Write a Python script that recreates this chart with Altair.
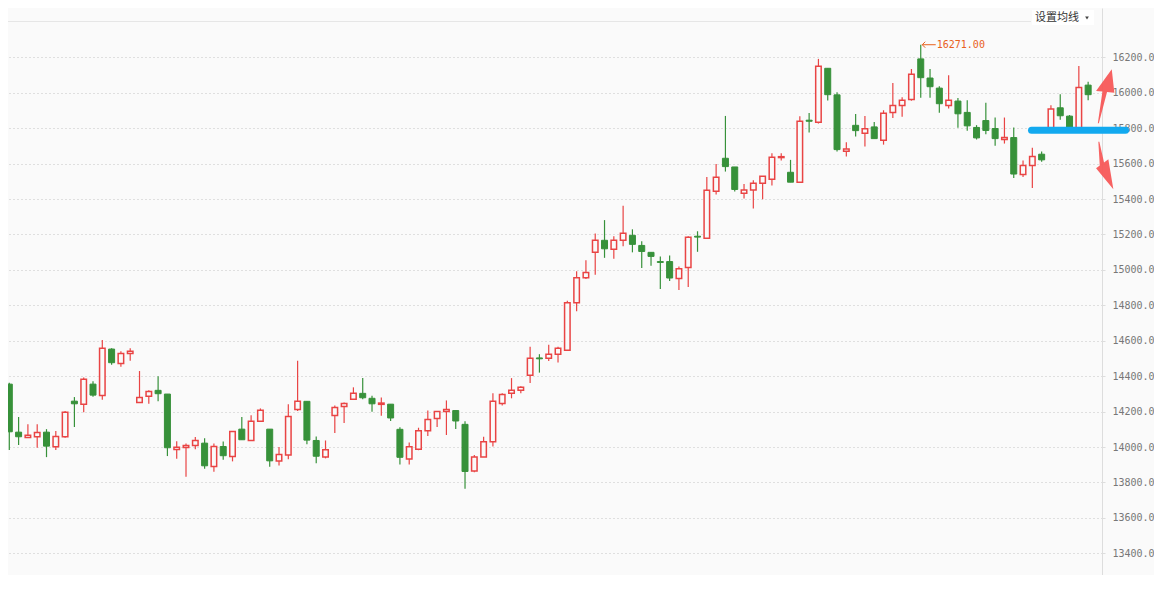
import altair as alt
import pandas as pd

# ---- candle data (index, open, close, high, low) ----
opens = [14570, 14355, 14084, 14054, 14058, 14084, 14002, 14058, 14259, 14241,
         14355, 14291, 14553, 14472, 14528, 14252, 14286, 14320, 14299, 13986,
         13998, 14009, 14022, 13890, 14003, 13947, 14101, 14037, 14146, 14101,
         13921, 13955, 14212, 14258, 14037, 13944, 14178, 14229, 14269, 14303,
         14275, 14241, 14242, 14100, 13933, 13988, 14092, 14161, 14200, 14206,
         14128, 13864, 13944, 14030, 14246, 14303, 14320, 14405, 14503, 14501,
         14524, 14547, 14814, 14956, 15099, 15167, 15116, 15167, 15195, 15138,
         15099, 15047, 15047, 14951, 15013, 15190, 15178, 15444, 15630, 15581,
         15433, 15451, 15489, 15512, 15634, 15551, 15495, 15845, 15833, 16138,
         15988, 15670, 15816, 15771, 15807, 15732, 15889, 15928, 15962, 16191,
         16083, 16026, 15928, 15953, 15889, 15804, 15843, 15798, 15736, 15747,
         15538, 15589, 15653, 15800, 15915, 15868, 15790, 16043]
closes = [14497, 14086, 14058, 14066, 14082, 14005, 14060, 14197, 14244, 14382,
          14293, 14557, 14476, 14528, 14540, 14280, 14314, 14301, 13996, 13999,
          14009, 14037, 13894, 14003, 13951, 14088, 14041, 14146, 14207, 13922,
          13958, 14172, 14258, 14039, 13948, 13984, 14223, 14246, 14303, 14278,
          14244, 14248, 14164, 13942, 14001, 14092, 14155, 14200, 14212, 14147,
          13862, 13944, 14030, 14258, 14297, 14320, 14337, 14501, 14498, 14524,
          14558, 14814, 14956, 14985, 15167, 15119, 15167, 15207, 15144, 15104,
          15076, 15042, 14954, 15007, 15184, 15185, 15449, 15523, 15583, 15454,
          15451, 15489, 15529, 15636, 15639, 15495, 15839, 15839, 16149, 15989,
          15679, 15683, 15786, 15796, 15741, 15884, 15928, 15957, 16104, 16085,
          16034, 15938, 15957, 15881, 15813, 15745, 15787, 15741, 15747, 15541,
          15589, 15640, 15621, 15908, 15870, 15790, 16030, 15989]
highs = [14590, 14363, 14169, 14129, 14129, 14101, 14090, 14203, 14282, 14393,
         14372, 14604, 14557, 14540, 14557, 14429, 14320, 14400, 14299, 14032,
         14020, 14056, 14050, 14020, 14031, 14088, 14169, 14180, 14218, 14101,
         14000, 14242, 14487, 14258, 14060, 14037, 14235, 14252, 14337, 14390,
         14290, 14280, 14242, 14111, 14026, 14109, 14206, 14200, 14263, 14206,
         14145, 13955, 14058, 14303, 14303, 14389, 14343, 14566, 14524, 14577,
         14566, 14826, 14992, 15055, 15205, 15281, 15190, 15362, 15229, 15161,
         15099, 15076, 15081, 15019, 15190, 15218, 15525, 15597, 15869, 15581,
         15485, 15506, 15529, 15659, 15659, 15621, 15867, 15886, 16191, 16138,
         16003, 15721, 15880, 15869, 15835, 15901, 16055, 15975, 16134, 16271,
         16134, 16036, 16098, 15970, 15957, 15817, 15943, 15860, 15860, 15804,
         15617, 15690, 15668, 15930, 15992, 15874, 16151, 16062]
lows = [14480, 13983, 14011, 14054, 13996, 13943, 13983, 14052, 14113, 14197,
        14284, 14267, 14464, 14453, 14487, 14252, 14244, 14259, 13949, 13934,
        13832, 13988, 13877, 13860, 13928, 13919, 14041, 14037, 14146, 13889,
        13896, 13931, 14204, 14016, 13908, 13936, 14079, 14136, 14269, 14269,
        14199, 14176, 14147, 13902, 13902, 13982, 14062, 14113, 14068, 14102,
        13765, 13857, 13944, 14003, 14235, 14275, 14303, 14361, 14420, 14486,
        14477, 14547, 14767, 14949, 14973, 15068, 15063, 15133, 15099, 15011,
        15023, 14892, 14937, 14886, 14903, 15102, 15178, 15425, 15555, 15442,
        15403, 15346, 15399, 15476, 15617, 15495, 15495, 15775, 15826, 15956,
        15668, 15640, 15753, 15696, 15741, 15707, 15858, 15864, 15955, 15972,
        15972, 15887, 15911, 15802, 15785, 15736, 15766, 15700, 15713, 15519,
        15524, 15462, 15611, 15790, 15847, 15780, 15785, 15958]

tick_values = [13400, 13600, 13800, 14000, 14200, 14400, 14600, 14800,
               15000, 15200, 15400, 15600, 15800, 16000, 16200]

max_idx = [99]
max_val = [16271]
max_label = ["16271.00"]

menu_label = ["设置均线"]

RED = "#e94444"
GREEN = "#37913a"
BG = "#fafafa"
ORANGE = "#e8601c"

n = len(opens)
df = pd.DataFrame({
    "i": list(range(n)),
    "open": opens,
    "close": closes,
    "high": highs,
    "low": lows,
})
df["dir"] = ["up" if c >= o else "down" for o, c in zip(opens, closes)]

xs = alt.Scale(domain=[0.86, 118.49], nice=False, zero=False, padding=0)
ys = alt.Scale(domain=[13277.6, 16478.3], nice=False, zero=False, padding=0)

yaxis = alt.Axis(orient="right", values=tick_values, format=".1f", grid=True,
                 gridDash=[1, 3], gridColor="#c4c4c4", gridWidth=1,
                 domainColor="#dddddd", tickColor="#dddddd", tickSize=3,
                 labelFont="DejaVu Sans Mono", labelFontSize=10,
                 labelColor="#777777", labelPadding=7, title=None)

X = alt.X("i:Q", scale=xs, axis=None)

base = alt.Chart(df)

wicks = base.mark_rule(strokeWidth=1.2).encode(
    x=X,
    y=alt.Y("low:Q", scale=ys, axis=yaxis),
    y2="high:Q",
    color=alt.Color("dir:N", scale=alt.Scale(domain=["up", "down"], range=[RED, GREEN]), legend=None),
)

down_bodies = base.transform_filter(alt.datum.dir == "down").mark_bar(
    size=6, fill=GREEN, stroke=GREEN, strokeWidth=1).encode(
    x=X,
    y=alt.Y("open:Q", scale=ys, axis=yaxis),
    y2="close:Q",
)

up_bodies = base.transform_filter(alt.datum.dir == "up").mark_bar(
    size=5.5, fill=BG, stroke=RED, strokeWidth=1.5).encode(
    x=X,
    y=alt.Y("open:Q", scale=ys, axis=yaxis),
    y2="close:Q",
)

ann_df = pd.DataFrame({"i": max_idx, "p": max_val, "t": max_label})
ann = alt.Chart(ann_df)
ann_shaft = ann.mark_rule(color=ORANGE, strokeWidth=1, xOffset=1.5, x2Offset=15).encode(
    x=X, x2="i:Q", y=alt.Y("p:Q", scale=ys, axis=yaxis))
ann_head = ann.mark_point(shape="M1,-1L0,0L1,1", size=36, filled=False, color=ORANGE,
                          strokeWidth=1, opacity=1, xOffset=1.5).encode(
    x=X, y=alt.Y("p:Q", scale=ys, axis=yaxis))
ann_text = ann.mark_text(align="left", baseline="middle", dx=16, font="DejaVu Sans Mono",
                         fontSize=10, color=ORANGE).encode(
    x=X, y=alt.Y("p:Q", scale=ys, axis=yaxis), text="t:N")

# drawn annotations: blue level bar and two red arrows
bar_df = pd.DataFrame({"x1": [110.91], "x2": [121.02], "p": [15788]})
blue = alt.Chart(bar_df).mark_rule(color="#12a9ef", strokeWidth=7, strokeCap="round").encode(
    x=alt.X("x1:Q", scale=xs, axis=None), x2="x2:Q", y=alt.Y("p:Q", scale=ys, axis=yaxis))

UP_PATH = "M7.7,-26.7L10.3,-3.3L3,-4L-5.2,27.3L-6.2,27.3L-1.6,-4.4L-8,-5Z"
DOWN_PATH = "M-5.7,-23.3L-4.7,-23.3L0,-2.55L4.3,-5.7L9.3,24.3L-8,3.3L-4.3,0.6Z"
arrow_df = pd.DataFrame({"x": [118.71, 118.71], "p": [15981.5, 15592], "k": ["up", "down"]})
arrows = alt.Chart(arrow_df).mark_point(filled=True, size=4, opacity=0.92, strokeWidth=0).encode(
    x=alt.X("x:Q", scale=xs, axis=None),
    y=alt.Y("p:Q", scale=ys, axis=yaxis),
    shape=alt.Shape("k:N", scale=alt.Scale(domain=["up", "down"], range=[UP_PATH, DOWN_PATH]), legend=None),
    color=alt.value("#f65454"),
)

top_df = pd.DataFrame({"p": [16402]})
top_line = alt.Chart(top_df).mark_rule(color="#e6e6e6", strokeWidth=1).encode(
    x=alt.value(0), x2=alt.value(1023), y=alt.Y("p:Q", scale=ys, axis=yaxis))

menu_df = pd.DataFrame({"t": menu_label})
menu_box = alt.Chart(menu_df).mark_rect(color="#ffffff").encode(
    x=alt.value(1024), x2=alt.value(1086), y=alt.value(2), y2=alt.value(17))
menu_text = alt.Chart(menu_df).mark_text(align="left", baseline="middle", font="Noto Sans CJK SC",
                                         fontSize=11, color="#333333").encode(
    x=alt.value(1027), y=alt.value(10), text="t:N")
menu_tri = alt.Chart(menu_df).mark_point(shape="triangle-down", filled=True, size=14,
                                         color="#444444", opacity=1).encode(
    x=alt.value(1079), y=alt.value(10))

chart = alt.layer(
    top_line, wicks, down_bodies, up_bodies, ann_shaft, ann_head, ann_text,
    blue, arrows, menu_box, menu_text, menu_tri,
).properties(
    width=1094, height=567,
    autosize=alt.AutoSizeParams(type="none"),
    padding={"left": 0, "top": 0, "right": 52, "bottom": 0},
    background=BG,
).configure_view(strokeWidth=0)

chart.save("out.html", embed_options={"renderer": "svg", "actions": False})
